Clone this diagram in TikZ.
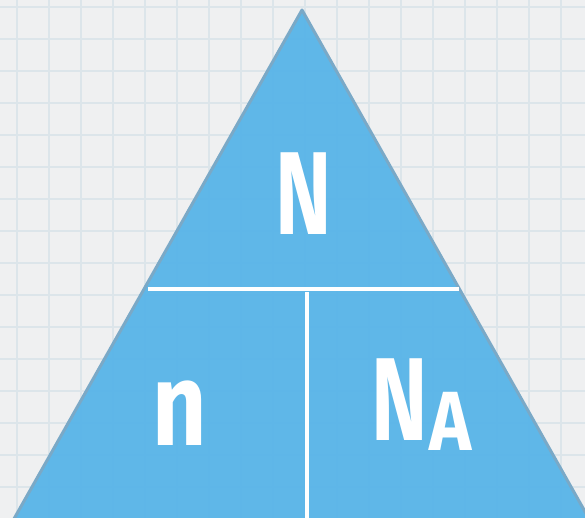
\documentclass[tikz,border=0pt]{standalone}
\usepackage{fontspec}
\setmainfont{Fira Sans}
\usetikzlibrary{positioning}

\definecolor{paper}{HTML}{EFF0F1}
\definecolor{gridline}{HTML}{DCE5EA}
\definecolor{triblue}{HTML}{57B4E8}
\definecolor{triedge}{HTML}{7AA9C7}

\begin{document}
\begin{tikzpicture}[
    x=1pt, y=-1pt,
    divider/.style={draw=white, line width=4.5pt},
    symtext/.style={text=white, inner sep=0pt, font=\fontsize{118}{118}\selectfont\bfseries},
    subtext/.style={font=\fontsize{80}{80}\selectfont\bfseries}
]

% paper with grid
\fill[paper] (0,0) rectangle (585,518);
\useasboundingbox (0,0) rectangle (585,518);
\clip (0,0) rectangle (585,518);
\foreach \x in {17,49,...,585} \draw[gridline, line width=1.3pt] (\x,0) -- (\x,518);
\foreach \y in {7,39,...,518} \draw[gridline, line width=1.3pt] (0,\y) -- (585,\y);

% the triangle
\coordinate (top) at (302,10);
\coordinate (bl) at (2,540);
\coordinate (br) at (601,540);
\draw[fill=triblue, fill opacity=0.94, draw=triedge, line width=3pt, line join=round] (top) -- (br) -- (bl) -- cycle;

% dividing lines
\coordinate (hl) at (148,289);
\coordinate (hr) at (459,289);
\coordinate (vt) at (307,292);
\coordinate (vb) at (307,520);
\draw[divider] (hl) -- (hr);
\draw[divider] (vt) -- (vb);

% quantities
\node[symtext, anchor=base] (num) at (304,235) {\scalebox{0.72}[1]{N}};
\node[symtext, anchor=base] (mol) at (180,445) {\scalebox{0.8}[1]{n}};
\node[symtext, anchor=base west] (avo) at (371,440) {\scalebox{0.72}[1]{N}\hspace{2pt}\raisebox{-10pt}{\scalebox{0.85}[1]{\fontsize{84}{84}\selectfont A}}};

\end{tikzpicture}
\end{document}
